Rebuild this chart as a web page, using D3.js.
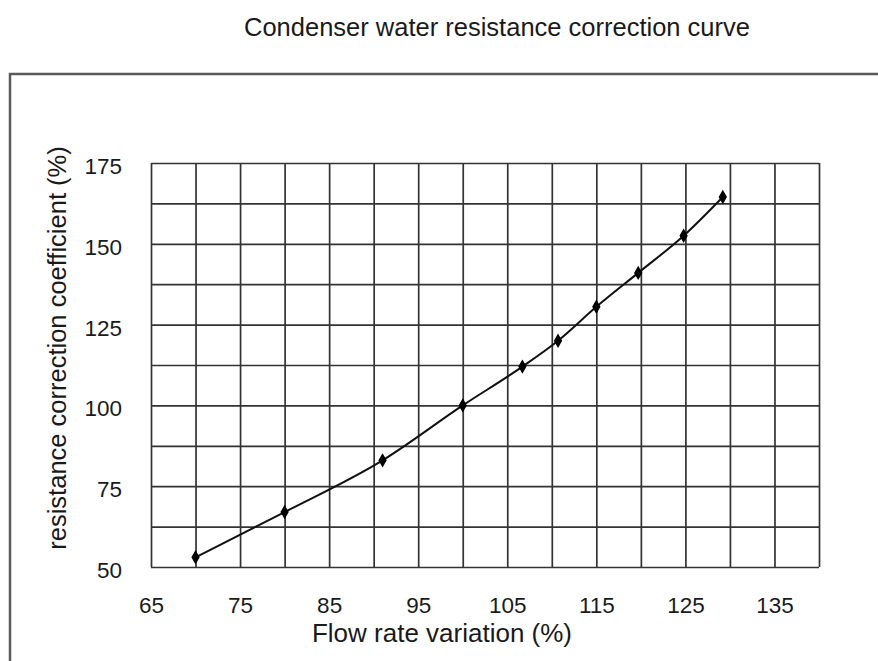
<!DOCTYPE html>
<html>
<head>
<meta charset="utf-8">
<script src="https://cdn.jsdelivr.net/npm/d3@7"></script>
<style>
  html, body { margin: 0; padding: 0; background: #fff; }
  svg { display: block; font-family: "Liberation Sans", Arial, sans-serif; }
</style>
</head>
<body>
<svg id="chart" width="878" height="661"></svg>
<script>
// ---- data ----
const titleText = "Condenser water resistance correction curve";
const xTitle = "Flow rate variation (%)";
const yTitle = "resistance correction coefficient (%)";
const flowRate = [70, 80, 91, 100, 106.7, 110.7, 115, 119.7, 124.8, 129.2];
const coefficient = [53, 67, 83, 100, 112, 120, 130.5, 141, 152.5, 164.5];
const xGridValues = [65, 70, 75, 80, 85, 90, 95, 100, 105, 110, 115, 120, 125, 130, 135, 140];
const xTickLabels = [65, 75, 85, 95, 105, 115, 125, 135];
const yGridValues = [50, 62.5, 75, 87.5, 100, 112.5, 125, 137.5, 150, 162.5, 175];
const yTickLabels = [50, 75, 100, 125, 150, 175];

// ---- layout ----
const svg = d3.select("#chart");
const plot = { left: 151, right: 819, top: 163, bottom: 567 };

const x = d3.scaleLinear().domain([65, 140]).range([plot.left, plot.right]);
const y = d3.scaleLinear().domain([50, 175]).range([plot.bottom, plot.top]);

// outer frame
svg.append("rect")
  .attr("x", 10).attr("y", 74)
  .attr("width", 920).attr("height", 700)
  .attr("fill", "none").attr("stroke", "#5a5a5a").attr("stroke-width", 2.5);

// title
svg.append("text")
  .attr("x", 497).attr("y", 27)
  .attr("text-anchor", "middle").attr("dominant-baseline", "central")
  .attr("font-size", 25.5).attr("fill", "#1a1a1a")
  .text(titleText);

// grid
const gridColor = "#333";
const gx = svg.append("g")
  .attr("transform", `translate(0,${plot.bottom})`)
  .call(d3.axisBottom(x).tickValues(xGridValues).tickSize(-(plot.bottom - plot.top)).tickFormat(""));
gx.select(".domain").remove();
gx.selectAll("line").attr("stroke", gridColor).attr("stroke-width", 1.7);

const gy = svg.append("g")
  .attr("transform", `translate(${plot.left},0)`)
  .call(d3.axisLeft(y).tickValues(yGridValues).tickSize(-(plot.right - plot.left)).tickFormat(""));
gy.select(".domain").remove();
gy.selectAll("line").attr("stroke", gridColor).attr("stroke-width", 1.7);

// tick labels
const ax = svg.append("g")
  .attr("transform", `translate(0,${plot.bottom})`)
  .call(d3.axisBottom(x).tickValues(xTickLabels).tickSize(0).tickPadding(0).tickFormat(d3.format("d")));
ax.select(".domain").remove();
ax.selectAll("text")
  .attr("y", 38).attr("dy", null).attr("dominant-baseline", "central")
  .attr("font-size", 22.5).attr("fill", "#1a1a1a")
  .attr("font-family", "'Liberation Sans', Arial, sans-serif");

const ay = svg.append("g")
  .attr("transform", `translate(${plot.left},0)`)
  .call(d3.axisLeft(y).tickValues(yTickLabels).tickSize(0).tickPadding(0).tickFormat(d3.format("d")));
ay.select(".domain").remove();
ay.selectAll("text")
  .attr("x", -29).attr("dy", null).attr("y", 3).attr("dominant-baseline", "central")
  .attr("text-anchor", "end")
  .attr("font-size", 22.5).attr("fill", "#1a1a1a")
  .attr("font-family", "'Liberation Sans', Arial, sans-serif");

// axis titles
svg.append("text")
  .attr("x", 442).attr("y", 633)
  .attr("text-anchor", "middle").attr("dominant-baseline", "central")
  .attr("font-size", 26).attr("fill", "#1a1a1a")
  .text(xTitle);

svg.append("text")
  .attr("transform", `translate(57,${(plot.top + plot.bottom) / 2 - 17}) rotate(-90)`)
  .attr("text-anchor", "middle").attr("dominant-baseline", "central")
  .attr("font-size", 25.5).attr("fill", "#1a1a1a")
  .text(yTitle);

// curve
const pts = flowRate.map((v, i) => [v, coefficient[i]]);
const line = d3.line()
  .x(d => x(d[0])).y(d => y(d[1]))
  .curve(d3.curveMonotoneX);
svg.append("path")
  .datum(pts)
  .attr("d", line)
  .attr("fill", "none").attr("stroke", "#111").attr("stroke-width", 2);

// markers
svg.append("g").selectAll("path")
  .data(pts)
  .join("path")
  .attr("transform", d => `translate(${x(d[0])},${y(d[1])})`)
  .attr("d", d3.symbol().type(d3.symbolDiamond).size(60))
  .attr("fill", "#000");
</script>
</body>
</html>
